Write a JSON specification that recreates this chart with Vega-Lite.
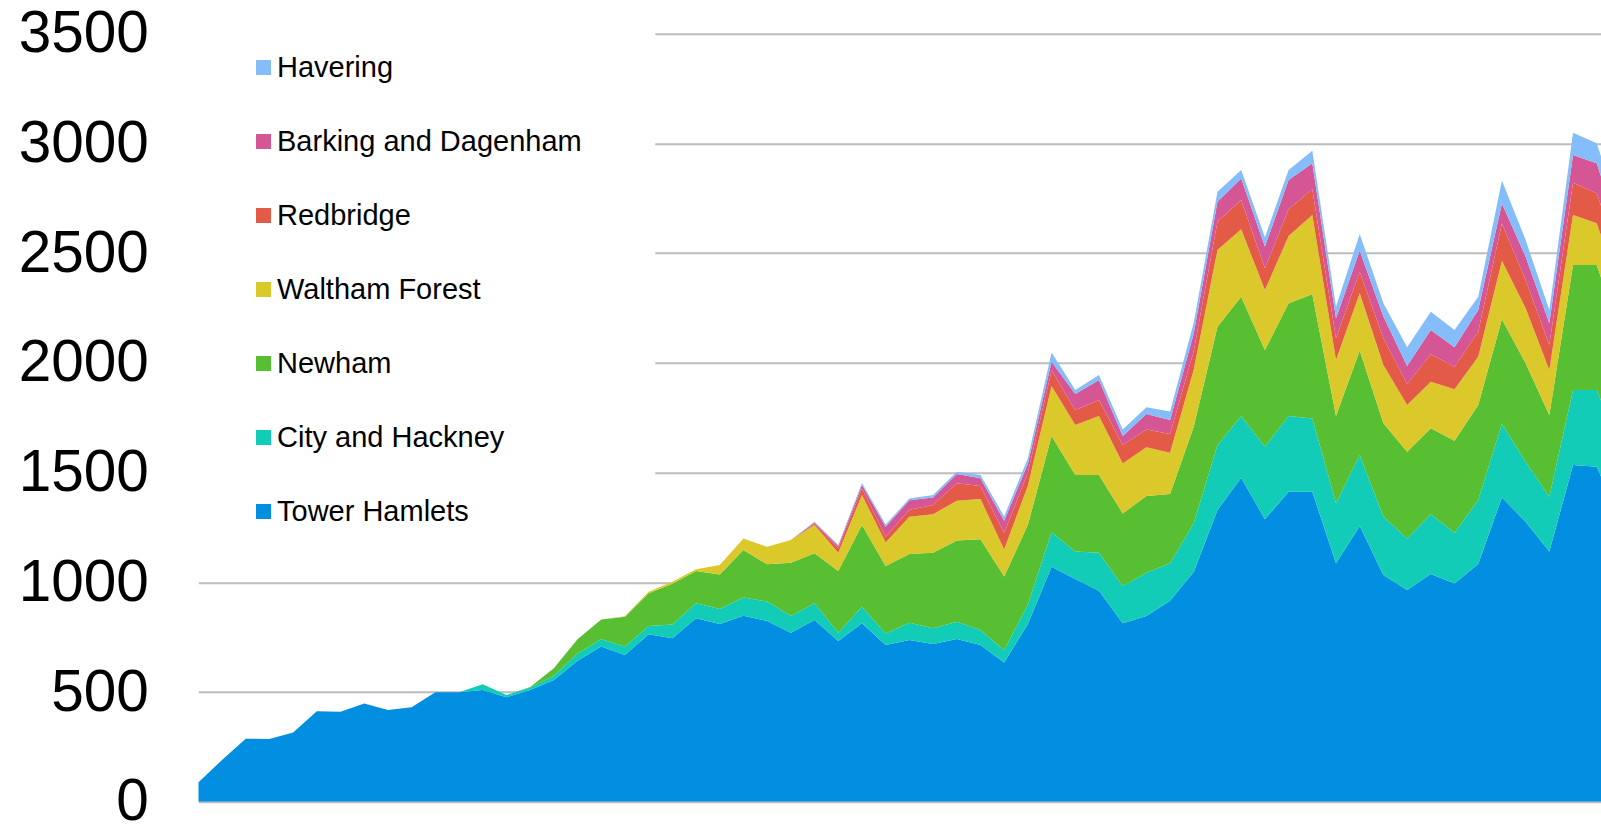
{
  "$schema": "https://vega.github.io/schema/vega-lite/v6.json",
  "width": 1402.7,
  "height": 767.9,
  "autosize": {"type": "none"},
  "padding": {"left": 198.3, "top": 33.8, "right": 0, "bottom": 24.3},
  "background": "white",
  "config": {"view": {"stroke": null}, "font": "Liberation Sans"},
  "datasets": {
    "series": [
      {"k": "TH", "s": "Tower Hamlets", "r": 1},
      {"k": "CH", "s": "City and Hackney", "r": 2},
      {"k": "NH", "s": "Newham", "r": 3},
      {"k": "WF", "s": "Waltham Forest", "r": 4},
      {"k": "RB", "s": "Redbridge", "r": 5},
      {"k": "BD", "s": "Barking and Dagenham", "r": 6},
      {"k": "HV", "s": "Havering", "r": 7}
    ]
  },
  "data": {
    "values": [
      {"i": 0, "TH": 88, "CH": 0, "NH": 0, "WF": 0, "RB": 0, "BD": 0, "HV": 0},
      {"i": 1, "TH": 190, "CH": 0, "NH": 0, "WF": 0, "RB": 0, "BD": 0, "HV": 0},
      {"i": 2, "TH": 287, "CH": 0, "NH": 0, "WF": 0, "RB": 0, "BD": 0, "HV": 0},
      {"i": 3, "TH": 286, "CH": 0, "NH": 0, "WF": 0, "RB": 0, "BD": 0, "HV": 0},
      {"i": 4, "TH": 315, "CH": 0, "NH": 0, "WF": 0, "RB": 0, "BD": 0, "HV": 0},
      {"i": 5, "TH": 412, "CH": 0, "NH": 0, "WF": 0, "RB": 0, "BD": 0, "HV": 0},
      {"i": 6, "TH": 410, "CH": 0, "NH": 0, "WF": 0, "RB": 0, "BD": 0, "HV": 0},
      {"i": 7, "TH": 448, "CH": 0, "NH": 0, "WF": 0, "RB": 0, "BD": 0, "HV": 0},
      {"i": 8, "TH": 418, "CH": 0, "NH": 0, "WF": 0, "RB": 0, "BD": 0, "HV": 0},
      {"i": 9, "TH": 430, "CH": 0, "NH": 0, "WF": 0, "RB": 0, "BD": 0, "HV": 0},
      {"i": 10, "TH": 499, "CH": 0, "NH": 0, "WF": 0, "RB": 0, "BD": 0, "HV": 0},
      {"i": 11, "TH": 499, "CH": 0, "NH": 0, "WF": 0, "RB": 0, "BD": 0, "HV": 0},
      {"i": 12, "TH": 509, "CH": 26, "NH": 0, "WF": 0, "RB": 0, "BD": 0, "HV": 0},
      {"i": 13, "TH": 476, "CH": 10, "NH": 0, "WF": 0, "RB": 0, "BD": 0, "HV": 0},
      {"i": 14, "TH": 509, "CH": 11, "NH": 3, "WF": 0, "RB": 0, "BD": 0, "HV": 0},
      {"i": 15, "TH": 555, "CH": 19, "NH": 34, "WF": 0, "RB": 0, "BD": 0, "HV": 0},
      {"i": 16, "TH": 643, "CH": 33, "NH": 64, "WF": 0, "RB": 0, "BD": 0, "HV": 0},
      {"i": 17, "TH": 707, "CH": 34, "NH": 90, "WF": 0, "RB": 0, "BD": 0, "HV": 0},
      {"i": 18, "TH": 669, "CH": 38, "NH": 136, "WF": 2, "RB": 0, "BD": 0, "HV": 0},
      {"i": 19, "TH": 763, "CH": 38, "NH": 149, "WF": 7, "RB": 0, "BD": 0, "HV": 0},
      {"i": 20, "TH": 745, "CH": 63, "NH": 185, "WF": 10, "RB": 0, "BD": 0, "HV": 0},
      {"i": 21, "TH": 836, "CH": 68, "NH": 148, "WF": 8, "RB": 0, "BD": 0, "HV": 0},
      {"i": 22, "TH": 810, "CH": 68, "NH": 158, "WF": 43, "RB": 0, "BD": 0, "HV": 0},
      {"i": 23, "TH": 848, "CH": 83, "NH": 216, "WF": 53, "RB": 0, "BD": 0, "HV": 0},
      {"i": 24, "TH": 824, "CH": 88, "NH": 170, "WF": 80, "RB": 0, "BD": 0, "HV": 0},
      {"i": 25, "TH": 770, "CH": 76, "NH": 243, "WF": 104, "RB": 0, "BD": 0, "HV": 0},
      {"i": 26, "TH": 828, "CH": 76, "NH": 228, "WF": 129, "RB": 6, "BD": 6, "HV": 3},
      {"i": 27, "TH": 732, "CH": 38, "NH": 282, "WF": 83, "RB": 20, "BD": 10, "HV": 5},
      {"i": 28, "TH": 813, "CH": 76, "NH": 372, "WF": 137, "RB": 30, "BD": 15, "HV": 10},
      {"i": 29, "TH": 714, "CH": 53, "NH": 307, "WF": 107, "RB": 27, "BD": 45, "HV": 10},
      {"i": 30, "TH": 737, "CH": 79, "NH": 313, "WF": 170, "RB": 32, "BD": 43, "HV": 8},
      {"i": 31, "TH": 719, "CH": 71, "NH": 345, "WF": 175, "RB": 42, "BD": 35, "HV": 11},
      {"i": 32, "TH": 742, "CH": 78, "NH": 370, "WF": 182, "RB": 79, "BD": 43, "HV": 10},
      {"i": 33, "TH": 714, "CH": 69, "NH": 413, "WF": 184, "RB": 59, "BD": 35, "HV": 15},
      {"i": 34, "TH": 634, "CH": 56, "NH": 336, "WF": 124, "RB": 76, "BD": 54, "HV": 20},
      {"i": 35, "TH": 810, "CH": 90, "NH": 362, "WF": 178, "RB": 60, "BD": 40, "HV": 25},
      {"i": 36, "TH": 1071, "CH": 157, "NH": 439, "WF": 228, "RB": 70, "BD": 40, "HV": 42},
      {"i": 37, "TH": 1015, "CH": 125, "NH": 349, "WF": 228, "RB": 68, "BD": 73, "HV": 18},
      {"i": 38, "TH": 962, "CH": 173, "NH": 354, "WF": 269, "RB": 73, "BD": 91, "HV": 23},
      {"i": 39, "TH": 813, "CH": 170, "NH": 331, "WF": 228, "RB": 84, "BD": 41, "HV": 30},
      {"i": 40, "TH": 846, "CH": 198, "NH": 349, "WF": 222, "RB": 82, "BD": 70, "HV": 31},
      {"i": 41, "TH": 916, "CH": 171, "NH": 315, "WF": 189, "RB": 85, "BD": 64, "HV": 38},
      {"i": 42, "TH": 1048, "CH": 222, "NH": 440, "WF": 260, "RB": 85, "BD": 80, "HV": 50},
      {"i": 43, "TH": 1330, "CH": 296, "NH": 539, "WF": 350, "RB": 129, "BD": 91, "HV": 45},
      {"i": 44, "TH": 1477, "CH": 281, "NH": 544, "WF": 307, "RB": 134, "BD": 98, "HV": 38},
      {"i": 45, "TH": 1287, "CH": 331, "NH": 441, "WF": 273, "RB": 99, "BD": 99, "HV": 43},
      {"i": 46, "TH": 1413, "CH": 345, "NH": 514, "WF": 306, "RB": 122, "BD": 134, "HV": 45},
      {"i": 47, "TH": 1413, "CH": 334, "NH": 566, "WF": 361, "RB": 117, "BD": 119, "HV": 57},
      {"i": 48, "TH": 1087, "CH": 273, "NH": 398, "WF": 255, "RB": 99, "BD": 91, "HV": 53},
      {"i": 49, "TH": 1257, "CH": 323, "NH": 476, "WF": 261, "RB": 99, "BD": 95, "HV": 77},
      {"i": 50, "TH": 1033, "CH": 266, "NH": 426, "WF": 265, "RB": 122, "BD": 99, "HV": 61},
      {"i": 51, "TH": 965, "CH": 235, "NH": 395, "WF": 213, "RB": 96, "BD": 82, "HV": 85},
      {"i": 52, "TH": 1038, "CH": 272, "NH": 392, "WF": 212, "RB": 125, "BD": 111, "HV": 83},
      {"i": 53, "TH": 995, "CH": 231, "NH": 419, "WF": 235, "RB": 103, "BD": 88, "HV": 79},
      {"i": 54, "TH": 1083, "CH": 292, "NH": 433, "WF": 220, "RB": 114, "BD": 99, "HV": 61},
      {"i": 55, "TH": 1387, "CH": 335, "NH": 477, "WF": 267, "RB": 170, "BD": 91, "HV": 104},
      {"i": 56, "TH": 1276, "CH": 274, "NH": 448, "WF": 251, "RB": 129, "BD": 106, "HV": 76},
      {"i": 57, "TH": 1140, "CH": 250, "NH": 373, "WF": 205, "RB": 114, "BD": 99, "HV": 60},
      {"i": 58, "TH": 1535, "CH": 341, "NH": 570, "WF": 228, "RB": 147, "BD": 127, "HV": 101},
      {"i": 59, "TH": 1527, "CH": 349, "NH": 570, "WF": 190, "RB": 137, "BD": 137, "HV": 91},
      {"i": 60, "TH": 1280, "CH": 330, "NH": 520, "WF": 200, "RB": 130, "BD": 120, "HV": 90}
    ]
  },
  "transform": [
    {"fold": ["TH", "CH", "NH", "WF", "RB", "BD", "HV"], "as": ["k", "v"]},
    {"lookup": "k", "from": {"data": {"name": "series"}, "key": "k", "fields": ["s", "r"]}}
  ],
  "mark": {"type": "area", "clip": true, "interpolate": "linear"},
  "encoding": {
    "x": {"field": "i", "type": "quantitative", "scale": {"domain": [0, 59.18], "nice": false, "zero": false}, "axis": null},
    "y": {
      "field": "v", "type": "quantitative", "stack": "zero",
      "scale": {"domain": [0, 3500], "nice": false},
      "axis": {
        "values": [0, 500, 1000, 1500, 2000, 2500, 3000, 3500],
        "format": "d", "title": null, "grid": true, "gridColor": "#bdbdbd", "gridWidth": 2,
        "domain": false, "ticks": false, "labelFontSize": 58.5, "labelColor": "#000000",
        "labelPadding": 50, "labelFont": "Liberation Sans"
      }
    },
    "color": {
      "field": "s", "type": "nominal",
      "scale": {
        "domain": ["Havering", "Barking and Dagenham", "Redbridge", "Waltham Forest", "Newham", "City and Hackney", "Tower Hamlets"],
        "range": ["#85bdfb", "#d45694", "#e35b47", "#dbc82b", "#57bf31", "#12ccb8", "#038fe1"]
      },
      "legend": {
        "orient": "none", "legendX": 0, "legendY": -34.8, "padding": 54, "symbolOffset": -3.3,
        "fillColor": "white", "zindex": 1,
        "title": "\u00a0", "titleOrient": "right", "titlePadding": 20, "titleFontSize": 2, "titleColor": "#ffffff",
        "symbolType": "square", "symbolSize": 225, "symbolStrokeWidth": 0, "symbolOpacity": 1,
        "labelFontSize": 29, "labelFont": "Liberation Sans", "labelColor": "#000000",
        "labelOffset": -1, "rowPadding": 44, "labelLimit": 700
      }
    },
    "order": {"field": "r", "type": "quantitative"}
  }
}
